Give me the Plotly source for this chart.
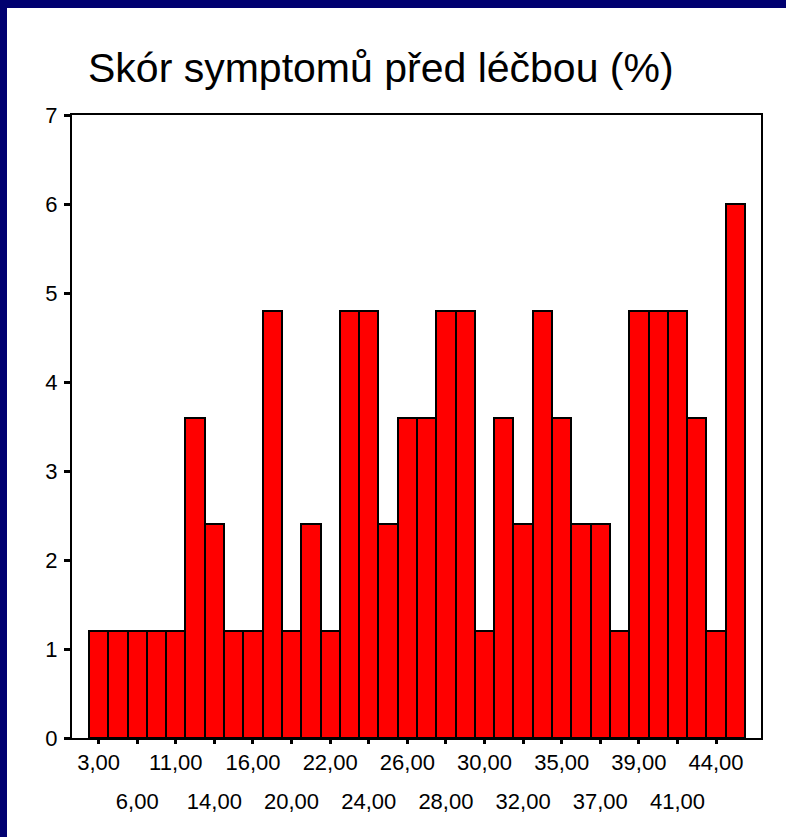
import plotly.graph_objects as go

categories = ["3,00", "5,00", "6,00", "8,00", "11,00", "12,00", "14,00", "15,00",
              "16,00", "18,00", "20,00", "21,00", "22,00", "23,00", "24,00", "25,00",
              "26,00", "27,00", "28,00", "29,00", "30,00", "31,00", "32,00", "33,00",
              "35,00", "36,00", "37,00", "38,00", "39,00", "40,00", "41,00", "42,00",
              "44,00", "45,00"]
percent = [1.2, 1.2, 1.2, 1.2, 1.2, 3.6, 2.4, 1.2,
           1.2, 4.8, 1.2, 2.4, 1.2, 4.8, 4.8, 2.4,
           3.6, 3.6, 4.8, 4.8, 1.2, 3.6, 2.4, 4.8,
           3.6, 2.4, 2.4, 1.2, 4.8, 4.8, 4.8, 3.6,
           1.2, 6.0]
y_ticks = [0, 1, 2, 3, 4, 5, 6, 7]
title_text = "Skór symptomů před léčbou (%)"

W, H = 786, 837
ml, mr, mt, mb = 72, 25, 115, 99
pw, ph = W - ml - mr, H - mt - mb

shown = categories[::2]
top_row = shown[::2]
bottom_row = shown[1::2]

fig = go.Figure()
fig.add_trace(go.Bar(
    x=categories, y=percent,
    marker=dict(color="#ff0000", line=dict(color="black", width=2)),
    hoverinfo="x+y",
))
# invisible helper trace so the second (label-only) x axis exists
fig.add_trace(go.Scatter(
    x=categories, y=percent, xaxis="x2", mode="markers",
    marker=dict(opacity=0), hoverinfo="skip", showlegend=False,
))

n = len(categories)
xrange = [-1.38, n - 1 + 0.5 + 0.83]
fig.update_layout(
    width=W, height=H,
    margin=dict(l=ml, r=mr, t=mt, b=mb, pad=0),
    paper_bgcolor="white", plot_bgcolor="white",
    bargap=0,
    showlegend=False,
    font=dict(family="Liberation Sans, Arial, sans-serif", color="black"),
    title=dict(text=title_text, x=88 / W, xanchor="left", xref="container",
               y=1 - 68 / H, yanchor="middle", yref="container",
               font=dict(size=41, color="black")),
    xaxis=dict(
        type="category", range=xrange,
        categoryorder="array", categoryarray=categories,
        tickmode="array", tickvals=shown,
        ticktext=[c if i % 2 == 0 else "" for i, c in enumerate(shown)],
        ticks="outside", ticklen=4, tickwidth=3, tickcolor="black",
        showline=True, linecolor="black", linewidth=2, mirror=True,
        showgrid=False, zeroline=False,
        tickfont=dict(size=22, color="black"), tickangle=0,
        ticklabelstandoff=0,
    ),
    xaxis2=dict(
        type="category", range=xrange, overlaying="x", side="bottom", anchor="y",
        categoryorder="array", categoryarray=categories,
        tickmode="array", tickvals=bottom_row, ticktext=bottom_row,
        ticks="", showline=False, showgrid=False, zeroline=False,
        tickfont=dict(size=22, color="black"), tickangle=0,
        ticklabelstandoff=48,
    ),
    yaxis=dict(
        range=[0, 7], tickmode="array", tickvals=y_ticks,
        ticks="outside", ticklen=6, tickwidth=3, tickcolor="black",
        showline=True, linecolor="black", linewidth=2, mirror=True,
        showgrid=False, zeroline=False,
        tickfont=dict(size=22, color="black"),
        ticklabelstandoff=2,
    ),
)

navy = "#000070"
def px_x(p):
    return (p - ml) / pw
def px_y(p):
    return 1 - (p - mt) / ph
fig.add_shape(type="rect", xref="paper", yref="paper",
              x0=px_x(0), x1=px_x(7), y0=px_y(H), y1=px_y(0),
              fillcolor=navy, line=dict(width=0), layer="above")
fig.add_shape(type="rect", xref="paper", yref="paper",
              x0=px_x(0), x1=px_x(W), y0=px_y(8), y1=px_y(0),
              fillcolor=navy, line=dict(width=0), layer="above")

fig.write_html("out.html", config={"displayModeBar": False},
               post_script="document.body.style.margin='0';document.body.style.padding='0';")
